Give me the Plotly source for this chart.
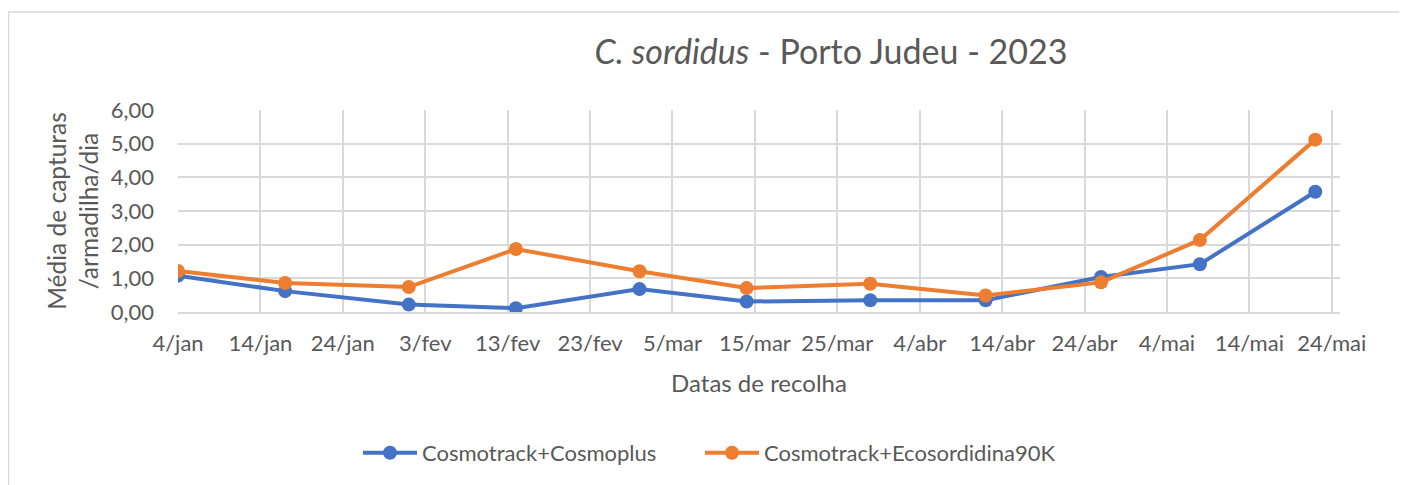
import plotly.graph_objects as go

# ---- data ----
dates = ["2023-01-04", "2023-01-17", "2023-02-01", "2023-02-14", "2023-03-01",
         "2023-03-14", "2023-03-29", "2023-04-12", "2023-04-26", "2023-05-08",
         "2023-05-22"]
cosmoplus = [1.08, 0.62, 0.22, 0.11, 0.68, 0.31, 0.35, 0.35, 1.04, 1.42, 3.57]
ecosordidina = [1.22, 0.86, 0.74, 1.87, 1.21, 0.71, 0.84, 0.49, 0.88, 2.14, 5.12]

tick_dates = ["2023-01-04", "2023-01-14", "2023-01-24", "2023-02-03", "2023-02-13",
              "2023-02-23", "2023-03-05", "2023-03-15", "2023-03-25", "2023-04-04",
              "2023-04-14", "2023-04-24", "2023-05-04", "2023-05-14", "2023-05-24"]
tick_labels = ["4/jan", "14/jan", "24/jan", "3/fev", "13/fev", "23/fev", "5/mar",
               "15/mar", "25/mar", "4/abr", "14/abr", "24/abr", "4/mai", "14/mai",
               "24/mai"]

series_names = ["Cosmotrack+Cosmoplus", "Cosmotrack+Ecosordidina90K"]
colors = ["#4472C4", "#ED7D31"]
legend_widths = [273, 320]

FONT = "Lato"
TXT = "#595959"
GRID = "#D9D9D9"

# page body has an 8px margin, so the figure is laid out 8px up/left
W, H = 1399, 477
L, R, T, B = 170, 67, 102, 173
pw, ph = W - L - R, H - T - B


def px_x(x):
    return (x - L) / pw


def px_y(y):
    return (T + ph - y) / ph


fig = go.Figure()
for name, ys, c, lw in zip(series_names, [cosmoplus, ecosordidina], colors, legend_widths):
    fig.add_trace(go.Scatter(
        x=dates, y=ys, name=name, mode="lines+markers",
        line=dict(color=c, width=4),
        marker=dict(color=c, size=14),
        legendwidth=lw,
    ))

fig.update_layout(
    width=W, height=H,
    margin=dict(l=L, r=R, t=T, b=B, autoexpand=False),
    paper_bgcolor="white", plot_bgcolor="white",
    separators=",.",
    font=dict(family=FONT, color=TXT, size=22),
    title=dict(
        text="<i>C. sordidus</i> - Porto Judeu - 2023",
        x=823 / W, xref="container", xanchor="center",
        y=1 - 44 / H, yref="container", yanchor="middle",
        font=dict(family=FONT, size=34, color=TXT),
    ),
    showlegend=True,
    legend=dict(
        orientation="h", x=px_x(350), xanchor="left",
        y=px_y(445), yanchor="middle",
        font=dict(family=FONT, size=22, color=TXT),
        itemwidth=54, entrywidthmode="pixels",
        traceorder="normal",
    ),
    xaxis=dict(
        type="date",
        range=["2023-01-04", "2023-05-25"],
        tickvals=tick_dates, ticktext=tick_labels,
        showgrid=True, gridcolor=GRID, gridwidth=1.5,
        showline=True, linecolor=GRID, linewidth=1.5,
        ticks="", ticklabelstandoff=11,
        tickfont=dict(family=FONT, size=22, color=TXT),
        title=dict(text="Datas de recolha", standoff=20,
                   font=dict(family=FONT, size=24, color=TXT)),
        zeroline=False,
    ),
    yaxis=dict(
        range=[0, 6], dtick=1, tickformat=".2f",
        showgrid=True, gridcolor=GRID, gridwidth=1.5,
        showline=False, zeroline=False,
        ticks="", ticklabelstandoff=23,
        tickfont=dict(family=FONT, size=22, color=TXT),
        title=dict(text="Média de capturas<br>/armadilha/dia", standoff=5,
                   font=dict(family=FONT, size=24.5, color=TXT)),
    ),
)

# outer chart frame
fig.add_shape(
    type="rect", xref="paper", yref="paper",
    x0=px_x(0.5), x1=px_x(1394),
    y0=px_y(500), y1=px_y(4),
    line=dict(color=GRID, width=1.5), fillcolor="rgba(0,0,0,0)", layer="below",
)

fig.write_html("out.html")
